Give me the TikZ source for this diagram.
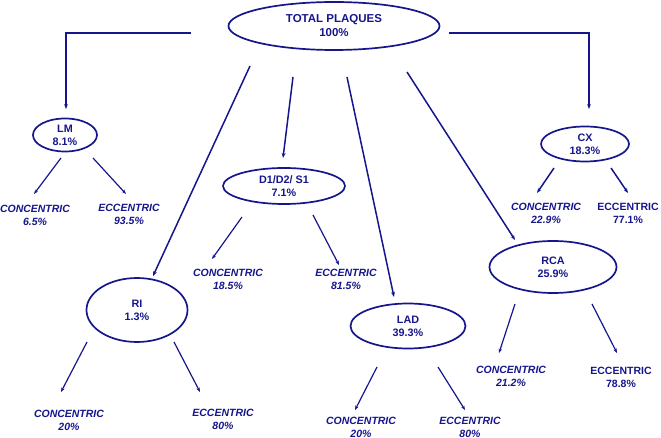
\documentclass[tikz,border=0pt]{standalone}
\usepackage{fontspec}
\setmainfont{Liberation Sans}
\usetikzlibrary{shapes.geometric,arrows.meta}
\definecolor{navy}{RGB}{22,22,140}
\begin{document}
\begin{tikzpicture}[x=1pt,y=-1pt,
  every node/.style={text=navy,font=\bfseries\fontsize{10.8}{13}\selectfont,align=center,inner sep=0pt},
  oval/.style={draw=navy,line width=1.7pt,ellipse},
  lbl/.style={font=\bfseries\itshape\fontsize{10.5}{13}\selectfont},
  ulbl/.style={font=\bfseries\fontsize{10.5}{13}\selectfont},
  conn/.style={draw=navy,line width=1.5pt,-{Stealth[length=5pt,width=3.8pt]}},
  sconn/.style={draw=navy,line width=1.2pt,-{Stealth[length=4.5pt,width=3.4pt]}}]
\useasboundingbox (0,0) rectangle (661,438);
% main ellipses
\node[oval,minimum width=211pt,minimum height=48pt,font=\bfseries\fontsize{11.5}{14}\selectfont] (tot) at (334,26) {TOTAL PLAQUES\\100\%};
\node[oval,minimum width=64pt,minimum height=33pt] (lm) at (65,135) {LM\\8.1\%};
\node[oval,minimum width=122pt,minimum height=36pt] (d1) at (284,186) {D1/D2/ S1\\7.1\%};
\node[oval,minimum width=101pt,minimum height=64pt] (ri) at (137,310) {RI\\1.3\%};
\node[oval,minimum width=115pt,minimum height=45pt] (lad) at (408,326) {LAD\\39.3\%};
\node[oval,minimum width=127pt,minimum height=52pt] (rca) at (553,267) {RCA\\25.9\%};
\node[oval,minimum width=88pt,minimum height=35pt] (cx) at (585,144) {CX\\18.3\%};
% leaf labels
\node[lbl] (lmc) at (35,215) {CONCENTRIC\\6.5\%};
\node[lbl] (lme) at (129,214) {ECCENTRIC\\93.5\%};
\node[lbl] (d1c) at (228,279) {CONCENTRIC\\18.5\%};
\node[lbl] (d1e) at (346,279) {ECCENTRIC\\81.5\%};
\node[lbl] (ric) at (69,420) {CONCENTRIC\\20\%};
\node[lbl] (rie) at (223,419) {ECCENTRIC\\80\%};
\node[lbl] (ladc) at (361,427) {CONCENTRIC\\20\%};
\node[lbl] (lade) at (470,427) {ECCENTRIC\\80\%};
\node[lbl] (rcac) at (511,376) {CONCENTRIC\\21.2\%};
\node[ulbl] (rcae) at (621,377) {ECCENTRIC\\78.8\%};
\node[lbl] (cxc) at (546,213) {CONCENTRIC\\22.9\%};
\node[ulbl] (cxe) at (628,213) {ECCENTRIC\\77.1\%};
% connector end points
\coordinate (tL) at (191,33);
\coordinate (tR) at (449,33);
\coordinate (lmTop) at (66,109);
\coordinate (cxTop) at (589,109);
\coordinate (tRI) at (250,66);
\coordinate (riTop) at (153,276);
\coordinate (tD1) at (293,77);
\coordinate (d1Top) at (283,158);
\coordinate (tLAD) at (347,77);
\coordinate (ladTop) at (394,297);
\coordinate (tRCA) at (407,72);
\coordinate (rcaTop) at (515,240);
% top-level connectors
\draw[conn] (tL) -| (lmTop);
\draw[conn] (tR) -| (cxTop);
\draw[conn] (tRI) -- (riTop);
\draw[conn] (tD1) -- (d1Top);
\draw[conn] (tLAD) -- (ladTop);
\draw[conn] (tRCA) -- (rcaTop);
% child connectors
\coordinate (lmA) at (61,158); \coordinate (lmAe) at (34,194);
\coordinate (lmB) at (93,158); \coordinate (lmBe) at (126,194);
\draw[sconn] (lmA) -- (lmAe);
\draw[sconn] (lmB) -- (lmBe);
\coordinate (d1A) at (242,217); \coordinate (d1Ae) at (212,259);
\coordinate (d1B) at (313,215); \coordinate (d1Be) at (339,265);
\draw[sconn] (d1A) -- (d1Ae);
\draw[sconn] (d1B) -- (d1Be);
\coordinate (riA) at (87,342); \coordinate (riAe) at (61,392);
\coordinate (riB) at (174,342); \coordinate (riBe) at (200,392);
\draw[sconn] (riA) -- (riAe);
\draw[sconn] (riB) -- (riBe);
\coordinate (ladA) at (377,367); \coordinate (ladAe) at (355,410);
\coordinate (ladB) at (438,367); \coordinate (ladBe) at (465,410);
\draw[sconn] (ladA) -- (ladAe);
\draw[sconn] (ladB) -- (ladBe);
\coordinate (rcaA) at (515,304); \coordinate (rcaAe) at (499,353);
\coordinate (rcaB) at (592,304); \coordinate (rcaBe) at (617,353);
\draw[sconn] (rcaA) -- (rcaAe);
\draw[sconn] (rcaB) -- (rcaBe);
\coordinate (cxA) at (554,168); \coordinate (cxAe) at (537,193);
\coordinate (cxB) at (611,168); \coordinate (cxBe) at (628,193);
\draw[conn] (cxA) -- (cxAe);
\draw[conn] (cxB) -- (cxBe);
\end{tikzpicture}
\end{document}
